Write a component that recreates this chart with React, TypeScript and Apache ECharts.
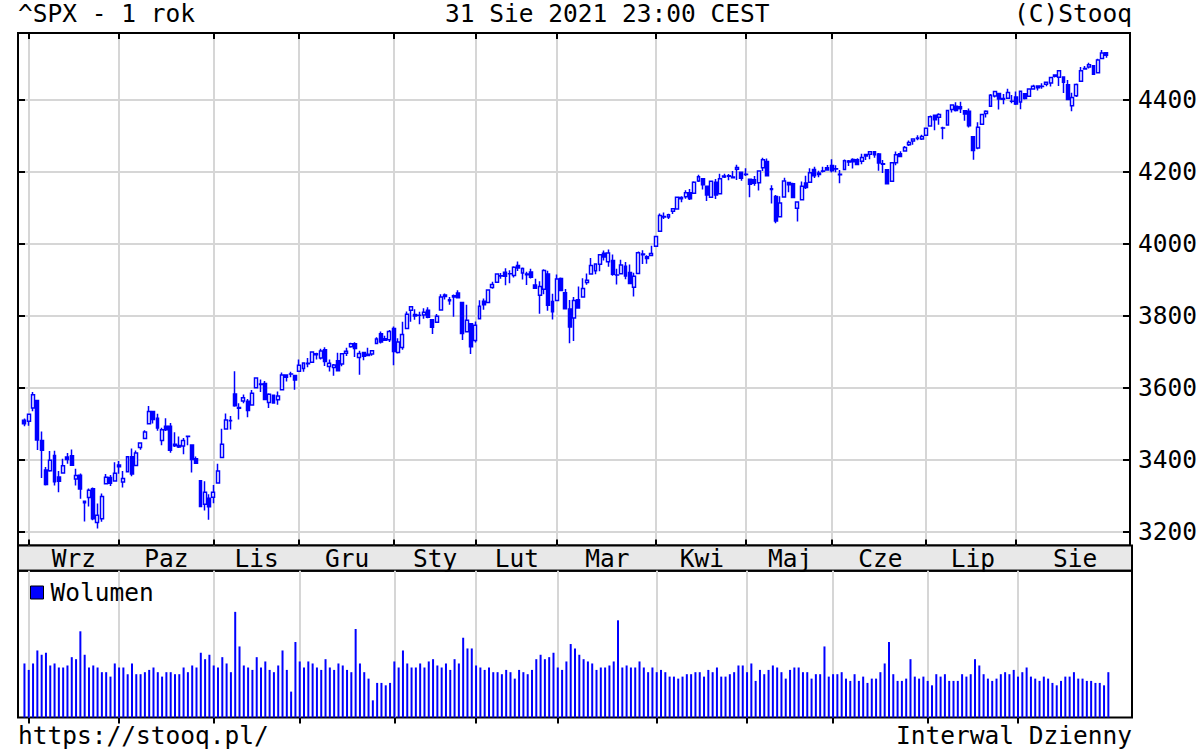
import { useEffect, useRef } from 'react';
import * as echarts from 'echarts';

const dates = [
  '2020-08-31','2020-09-01','2020-09-02','2020-09-03','2020-09-04','2020-09-08','2020-09-09','2020-09-10','2020-09-11','2020-09-14',
  '2020-09-15','2020-09-16','2020-09-17','2020-09-18','2020-09-21','2020-09-22','2020-09-23','2020-09-24','2020-09-25','2020-09-28',
  '2020-09-29','2020-09-30','2020-10-01','2020-10-02','2020-10-05','2020-10-06','2020-10-07','2020-10-08','2020-10-09','2020-10-12',
  '2020-10-13','2020-10-14','2020-10-15','2020-10-16','2020-10-19','2020-10-20','2020-10-21','2020-10-22','2020-10-23','2020-10-26',
  '2020-10-27','2020-10-28','2020-10-29','2020-10-30','2020-11-02','2020-11-03','2020-11-04','2020-11-05','2020-11-06','2020-11-09',
  '2020-11-10','2020-11-11','2020-11-12','2020-11-13','2020-11-16','2020-11-17','2020-11-18','2020-11-19','2020-11-20','2020-11-23',
  '2020-11-24','2020-11-25','2020-11-27','2020-11-30','2020-12-01','2020-12-02','2020-12-03','2020-12-04','2020-12-07','2020-12-08',
  '2020-12-09','2020-12-10','2020-12-11','2020-12-14','2020-12-15','2020-12-16','2020-12-17','2020-12-18','2020-12-21','2020-12-22',
  '2020-12-23','2020-12-24','2020-12-28','2020-12-29','2020-12-30','2020-12-31','2021-01-04','2021-01-05','2021-01-06','2021-01-07',
  '2021-01-08','2021-01-11','2021-01-12','2021-01-13','2021-01-14','2021-01-15','2021-01-19','2021-01-20','2021-01-21','2021-01-22',
  '2021-01-25','2021-01-26','2021-01-27','2021-01-28','2021-01-29','2021-02-01','2021-02-02','2021-02-03','2021-02-04','2021-02-05',
  '2021-02-08','2021-02-09','2021-02-10','2021-02-11','2021-02-12','2021-02-16','2021-02-17','2021-02-18','2021-02-19','2021-02-22',
  '2021-02-23','2021-02-24','2021-02-25','2021-02-26','2021-03-01','2021-03-02','2021-03-03','2021-03-04','2021-03-05','2021-03-08',
  '2021-03-09','2021-03-10','2021-03-11','2021-03-12','2021-03-15','2021-03-16','2021-03-17','2021-03-18','2021-03-19','2021-03-22',
  '2021-03-23','2021-03-24','2021-03-25','2021-03-26','2021-03-29','2021-03-30','2021-03-31','2021-04-01','2021-04-05','2021-04-06',
  '2021-04-07','2021-04-08','2021-04-09','2021-04-12','2021-04-13','2021-04-14','2021-04-15','2021-04-16','2021-04-19','2021-04-20',
  '2021-04-21','2021-04-22','2021-04-23','2021-04-26','2021-04-27','2021-04-28','2021-04-29','2021-04-30','2021-05-03','2021-05-04',
  '2021-05-05','2021-05-06','2021-05-07','2021-05-10','2021-05-11','2021-05-12','2021-05-13','2021-05-14','2021-05-17','2021-05-18',
  '2021-05-19','2021-05-20','2021-05-21','2021-05-24','2021-05-25','2021-05-26','2021-05-27','2021-05-28','2021-06-01','2021-06-02',
  '2021-06-03','2021-06-04','2021-06-07','2021-06-08','2021-06-09','2021-06-10','2021-06-11','2021-06-14','2021-06-15','2021-06-16',
  '2021-06-17','2021-06-18','2021-06-21','2021-06-22','2021-06-23','2021-06-24','2021-06-25','2021-06-28','2021-06-29','2021-06-30',
  '2021-07-01','2021-07-02','2021-07-06','2021-07-07','2021-07-08','2021-07-09','2021-07-12','2021-07-13','2021-07-14','2021-07-15',
  '2021-07-16','2021-07-19','2021-07-20','2021-07-21','2021-07-22','2021-07-23','2021-07-26','2021-07-27','2021-07-28','2021-07-29',
  '2021-07-30','2021-08-02','2021-08-03','2021-08-04','2021-08-05','2021-08-06','2021-08-09','2021-08-10','2021-08-11','2021-08-12',
  '2021-08-13','2021-08-16','2021-08-17','2021-08-18','2021-08-19','2021-08-20','2021-08-23','2021-08-24','2021-08-25','2021-08-26',
  '2021-08-27','2021-08-30','2021-08-31'
];

const opens = [
  3509.73,3507.44,3543.76,3564.74,3453.60,3371.88,3369.82,3412.56,3352.70,3363.56,
  3407.73,3411.23,3346.86,3357.38,3285.57,3295.75,3320.11,3226.14,3236.66,3333.90,
  3350.92,3341.21,3385.87,3338.94,3367.27,3408.74,3384.56,3434.28,3459.67,3500.02,
  3534.01,3515.47,3453.72,3493.50,3493.66,3439.38,3439.91,3438.50,3464.90,3441.42,
  3403.15,3342.48,3277.17,3293.59,3296.20,3336.25,3406.46,3485.74,3508.34,3583.04,
  3543.26,3563.22,3562.67,3552.57,3600.16,3610.31,3612.09,3559.41,3579.31,3566.82,
  3594.52,3635.50,3638.55,3634.18,3645.87,3653.78,3668.28,3670.94,3694.73,3683.05,
  3705.98,3659.13,3656.08,3675.27,3666.41,3696.25,3713.65,3722.39,3684.28,3698.08,
  3693.42,3694.03,3723.03,3750.01,3736.19,3733.27,3764.61,3698.02,3712.20,3764.71,
  3815.05,3803.14,3801.62,3802.23,3814.98,3788.73,3781.88,3816.22,3857.46,3844.24,
  3851.68,3862.96,3836.83,3755.75,3778.05,3731.17,3791.84,3840.27,3836.66,3878.30,
  3892.59,3910.49,3920.78,3916.40,3911.65,3939.61,3918.50,3915.86,3921.16,3885.55,
  3857.07,3873.71,3915.80,3839.66,3842.51,3903.64,3863.99,3818.53,3793.58,3844.39,
  3851.93,3891.99,3915.54,3924.52,3942.96,3973.59,3949.57,3953.50,3913.14,3916.48,
  3937.60,3919.93,3879.34,3917.12,3969.31,3963.34,3967.25,3992.78,4034.44,4075.57,
  4074.29,4089.95,4096.11,4124.71,4130.10,4141.58,4139.76,4174.14,4179.80,4159.18,
  4128.42,4170.46,4138.78,4185.03,4188.25,4185.14,4206.14,4198.10,4191.98,4179.04,
  4177.06,4169.14,4210.34,4228.29,4150.34,4130.55,4074.99,4129.58,4169.92,4165.94,
  4098.45,4121.97,4168.61,4170.16,4205.94,4191.59,4201.94,4210.77,4216.52,4206.82,
  4191.43,4206.05,4229.34,4233.81,4232.99,4228.56,4242.90,4248.31,4255.28,4248.87,
  4220.37,4204.78,4173.40,4224.61,4249.27,4256.97,4274.45,4284.90,4293.21,4290.65,
  4300.73,4326.60,4356.46,4351.01,4321.07,4329.38,4372.41,4381.07,4380.11,4369.02,
  4367.43,4296.40,4265.11,4331.13,4361.27,4381.20,4409.58,4416.38,4402.95,4403.59,
  4395.12,4406.86,4392.74,4415.95,4408.86,4429.07,4437.77,4435.79,4442.18,4446.08,
  4464.84,4461.65,4462.12,4440.94,4382.44,4410.56,4450.29,4484.40,4490.45,4493.75,
  4474.10,4513.76,4529.75
];

const highs = [
  3514.77,3528.03,3588.11,3564.85,3479.15,3379.97,3424.77,3425.55,3368.95,3402.93,
  3419.48,3428.92,3375.17,3362.27,3285.57,3320.31,3323.35,3278.70,3306.88,3360.74,
  3357.92,3393.56,3397.18,3369.10,3409.57,3431.56,3426.26,3447.28,3482.34,3549.85,
  3534.01,3527.94,3489.08,3515.76,3502.42,3476.93,3464.86,3460.53,3466.46,3441.42,
  3409.51,3342.48,3341.05,3304.93,3330.14,3389.49,3486.25,3529.05,3521.58,3645.99,
  3557.22,3581.16,3569.02,3593.66,3628.51,3623.11,3619.09,3585.22,3581.23,3589.81,
  3642.31,3635.50,3644.31,3634.18,3678.45,3670.96,3682.73,3699.20,3697.41,3708.45,
  3712.39,3678.49,3665.91,3697.61,3695.29,3711.27,3725.12,3726.70,3702.90,3698.26,
  3711.24,3703.82,3740.51,3756.12,3744.63,3760.20,3769.99,3737.83,3783.04,3811.55,
  3826.69,3817.86,3810.78,3820.96,3823.60,3788.73,3804.53,3859.75,3861.45,3852.31,
  3859.23,3870.90,3836.83,3830.50,3778.05,3784.32,3843.09,3847.51,3872.42,3894.56,
  3915.77,3918.35,3931.50,3925.99,3937.23,3950.43,3933.61,3921.98,3930.41,3902.92,
  3895.98,3928.65,3925.02,3861.08,3914.50,3906.41,3874.47,3843.67,3851.69,3881.06,
  3903.76,3917.35,3960.27,3944.99,3970.08,3981.04,3983.87,3969.62,3930.12,3955.31,
  3949.13,3942.08,3919.54,3978.19,3981.83,3968.01,3994.41,4020.63,4083.42,4086.23,
  4083.13,4098.19,4129.48,4131.76,4148.00,4151.69,4173.49,4191.31,4180.81,4159.18,
  4175.02,4179.57,4194.17,4194.19,4193.35,4201.53,4218.78,4198.10,4209.39,4179.04,
  4187.72,4202.70,4238.04,4236.39,4162.04,4134.73,4131.58,4183.13,4171.92,4169.15,
  4116.93,4172.80,4188.72,4209.52,4213.42,4202.61,4213.38,4218.36,4234.12,4217.37,
  4204.39,4233.45,4232.34,4236.74,4237.09,4249.74,4248.38,4255.59,4257.16,4251.89,
  4232.29,4204.78,4226.24,4255.84,4256.60,4271.28,4286.12,4292.14,4300.52,4302.43,
  4320.66,4355.43,4356.46,4361.88,4324.57,4371.60,4386.68,4392.37,4393.68,4369.02,
  4375.09,4296.40,4336.84,4359.70,4369.87,4415.18,4422.73,4416.38,4415.47,4429.97,
  4412.25,4422.18,4423.79,4416.17,4429.76,4440.82,4439.39,4445.21,4449.44,4461.77,
  4468.37,4480.26,4462.12,4454.32,4418.61,4444.35,4489.88,4492.81,4501.71,4495.90,
  4513.33,4537.36,4531.39
];

const lows = [
  3493.25,3494.60,3535.23,3427.41,3349.63,3329.27,3366.84,3329.25,3310.47,3363.56,
  3389.25,3384.45,3328.82,3292.40,3229.10,3270.95,3232.57,3209.45,3228.44,3332.91,
  3327.54,3340.47,3361.39,3323.69,3367.27,3354.54,3384.56,3428.15,3458.07,3499.61,
  3500.86,3480.55,3440.89,3480.45,3419.93,3435.65,3433.06,3415.34,3440.45,3364.86,
  3388.71,3268.89,3259.82,3233.94,3279.74,3336.25,3405.17,3485.74,3484.34,3547.48,
  3511.91,3557.00,3518.58,3552.57,3600.16,3588.68,3567.33,3543.84,3556.85,3552.77,
  3594.52,3617.76,3629.33,3594.39,3645.87,3644.84,3657.17,3670.94,3678.88,3678.83,
  3660.54,3645.18,3633.40,3645.84,3659.62,3688.57,3710.87,3685.84,3636.48,3676.16,
  3689.28,3689.32,3723.03,3723.31,3730.21,3726.88,3662.71,3695.07,3705.34,3764.71,
  3783.60,3789.02,3776.51,3791.50,3792.86,3749.62,3780.37,3816.22,3845.05,3830.41,
  3797.16,3847.78,3732.48,3755.75,3694.12,3725.62,3791.84,3816.68,3836.66,3874.93,
  3892.59,3902.64,3884.94,3890.39,3905.78,3923.85,3900.43,3885.03,3903.07,3874.71,
  3805.59,3859.60,3814.04,3789.54,3842.51,3868.57,3818.86,3723.34,3730.19,3819.25,
  3851.93,3885.73,3915.54,3915.21,3923.54,3953.44,3935.74,3910.86,3886.75,3914.16,
  3901.57,3889.07,3853.50,3917.12,3943.25,3944.35,3966.98,3992.78,4034.44,4068.14,
  4068.31,4082.54,4095.51,4114.82,4124.43,4120.87,4139.76,4170.75,4150.47,4118.38,
  4126.35,4123.69,4138.78,4182.36,4176.22,4181.78,4176.81,4174.85,4188.03,4128.59,
  4160.94,4147.33,4201.64,4188.13,4111.53,4056.88,4074.99,4129.58,4142.69,4125.99,
  4061.41,4121.97,4151.72,4170.16,4182.52,4184.11,4197.78,4203.57,4197.59,4198.27,
  4167.93,4206.05,4215.66,4208.41,4218.74,4220.34,4232.25,4234.07,4238.35,4202.45,
  4196.05,4164.40,4173.40,4217.27,4241.43,4256.97,4271.16,4274.67,4287.04,4287.96,
  4300.73,4326.60,4314.37,4329.79,4289.37,4329.38,4364.03,4366.92,4362.36,4340.70,
  4322.53,4233.13,4262.05,4331.13,4350.06,4381.20,4405.45,4372.51,4387.01,4403.59,
  4389.65,4384.81,4373.00,4400.23,4408.86,4429.07,4424.74,4430.03,4436.42,4435.96,
  4460.82,4437.66,4417.83,4397.59,4367.73,4406.80,4450.29,4482.28,4485.66,4468.99,
  4474.10,4513.76,4515.80
];

const closes = [
  3500.31,3526.65,3580.84,3455.06,3426.96,3331.84,3398.96,3339.19,3340.97,3383.54,
  3401.20,3385.49,3357.01,3319.47,3281.06,3315.57,3236.92,3246.59,3298.46,3351.60,
  3335.47,3363.00,3380.80,3348.42,3408.60,3360.97,3419.44,3446.83,3477.14,3534.22,
  3511.93,3488.67,3483.34,3483.81,3426.92,3443.12,3435.56,3453.49,3465.39,3400.97,
  3390.68,3271.03,3310.11,3269.96,3310.24,3369.16,3443.44,3510.45,3509.44,3550.50,
  3545.53,3572.66,3537.01,3585.15,3626.91,3609.53,3567.79,3581.87,3557.54,3577.59,
  3635.41,3629.65,3638.35,3621.63,3662.45,3669.01,3666.72,3699.12,3691.96,3702.25,
  3672.82,3668.10,3663.46,3647.49,3694.62,3701.17,3722.48,3709.41,3694.92,3687.26,
  3690.01,3703.06,3735.36,3727.04,3732.04,3756.07,3700.65,3726.86,3748.14,3803.79,
  3824.68,3799.61,3801.19,3809.84,3795.54,3768.25,3798.91,3851.85,3853.07,3841.47,
  3855.36,3849.62,3750.77,3787.38,3714.24,3773.86,3826.31,3830.17,3871.74,3886.83,
  3915.59,3911.23,3909.88,3916.38,3934.83,3932.59,3931.33,3913.97,3906.71,3876.50,
  3881.37,3925.43,3829.34,3811.15,3901.82,3870.29,3819.72,3768.47,3841.94,3821.35,
  3875.44,3898.81,3939.34,3943.34,3968.94,3962.71,3974.12,3915.46,3913.10,3940.59,
  3910.52,3889.14,3909.52,3974.54,3971.09,3958.55,3972.89,4019.87,4077.91,4073.94,
  4079.95,4097.17,4128.80,4127.99,4141.59,4124.66,4170.42,4185.47,4163.26,4134.94,
  4173.42,4134.98,4180.17,4187.62,4186.72,4183.18,4211.47,4181.17,4192.66,4164.66,
  4167.59,4201.62,4232.60,4188.43,4152.10,4063.04,4112.50,4173.85,4163.29,4127.83,
  4115.68,4159.12,4155.86,4197.05,4188.13,4195.99,4200.88,4204.11,4202.04,4208.12,
  4192.85,4229.89,4226.52,4227.26,4219.55,4239.18,4247.44,4255.15,4246.59,4223.70,
  4221.86,4166.45,4224.79,4246.44,4241.84,4266.49,4280.70,4290.61,4291.80,4297.50,
  4319.94,4352.34,4343.54,4358.13,4320.82,4369.55,4384.63,4369.21,4374.30,4360.03,
  4327.16,4258.49,4323.06,4358.69,4367.48,4411.79,4422.30,4401.46,4400.64,4419.15,
  4395.26,4387.16,4423.15,4402.66,4429.10,4436.52,4432.35,4436.75,4447.70,4460.83,
  4468.00,4479.71,4448.08,4400.27,4405.80,4441.67,4479.53,4486.23,4496.19,4470.00,
  4509.37,4528.79,4522.68
];

// volume in billions of shares
const volumes = [
  4.03,3.55,4.03,5.00,4.68,4.83,3.88,4.03,3.73,3.73,
  3.88,4.50,4.35,6.43,4.68,3.73,3.88,3.73,3.38,3.38,
  3.05,4.03,3.73,3.73,3.23,4.03,3.23,3.23,3.38,3.55,
  3.73,3.38,3.05,3.38,3.38,3.23,3.23,3.73,3.38,3.88,
  3.73,4.83,4.35,4.68,3.88,3.73,4.50,4.03,3.38,7.88,
  5.30,3.88,3.73,3.55,4.50,3.73,4.18,3.55,3.38,3.88,
  5.00,3.55,1.93,5.63,4.18,3.73,4.18,4.03,3.73,3.55,
  4.35,3.73,3.55,4.03,3.88,3.55,3.38,6.60,4.03,3.38,
  2.90,1.28,2.58,2.58,2.40,2.58,4.18,3.73,5.00,4.03,
  3.73,3.73,4.03,3.73,4.18,4.35,3.88,3.73,4.03,3.55,
  4.35,4.03,5.95,5.15,5.15,3.88,3.73,3.55,3.73,3.38,
  3.38,3.23,3.55,3.38,2.90,3.55,3.38,3.23,3.55,4.35,
  4.68,4.35,4.50,4.83,3.73,3.55,4.18,5.48,5.15,4.68,
  4.35,4.18,4.03,3.55,3.73,3.73,3.88,4.18,7.25,3.73,
  3.88,3.73,3.73,4.18,3.73,3.38,3.73,3.38,3.55,3.38,
  3.05,3.05,2.90,3.05,3.23,3.23,3.38,3.38,3.05,3.55,
  3.38,3.73,3.05,3.05,3.23,3.38,3.88,3.88,3.38,4.03,
  2.73,3.55,3.23,3.55,3.88,3.73,3.38,2.90,3.55,3.73,
  3.73,3.38,3.38,2.90,3.23,3.23,5.30,3.05,3.23,3.23,
  3.38,2.90,2.73,3.23,2.73,3.05,2.58,2.90,2.90,3.38,
  4.03,5.63,3.23,2.73,2.73,2.90,4.35,3.05,2.90,3.05,
  2.73,2.40,3.23,3.05,3.23,2.73,2.73,2.73,3.23,3.05,
  3.23,4.35,3.88,3.23,2.90,2.73,2.90,3.23,3.38,3.23,
  3.55,3.05,3.38,3.73,3.05,2.90,2.73,3.05,2.90,2.58,
  2.40,2.73,3.05,3.05,3.38,2.90,2.90,2.73,2.73,2.58,
  2.58,2.40,3.38
];

const priceTicks = [3200, 3400, 3600, 3800, 4000, 4200, 4400];
const monthNames = ['Wrz', 'Paz', 'Lis', 'Gru', 'Sty', 'Lut', 'Mar', 'Kwi', 'Maj', 'Cze', 'Lip', 'Sie'];

const LEAD = 1;
const TRAIL = 5;
const FONT = "'DejaVu Sans Mono', 'Liberation Mono', monospace";
const BLUE = '#0000ff';
const GRID_GRAY = '#d6d6d6';

export default function App() {
  const ref = useRef<HTMLDivElement>(null);

  useEffect(() => {
    document.body.style.margin = '0';
    const chart = echarts.init(ref.current as HTMLDivElement, null, { renderer: 'svg' });

    const cats = [
      ...Array(LEAD).fill(''),
      ...dates,
      ...Array(TRAIL).fill('').map((_, i) => ' '.repeat(i + 1)),
    ];
    const candleData = [
      ...Array(LEAD).fill(['-', '-', '-', '-']),
      ...dates.map((_, i) => [opens[i], closes[i], lows[i], highs[i]]),
    ];
    const volData = [...Array(LEAD).fill('-'), ...volumes];

    const monthStarts: number[] = [];
    dates.forEach((d, i) => {
      if (i > 0 && d.slice(5, 7) !== dates[i - 1].slice(5, 7)) monthStarts.push(i);
    });
    const startCats = new Set(monthStarts.map((i) => i + LEAD));
    const rightEdge = dates.length - 1 + TRAIL + 0.5;
    const leftEdge = -LEAD - 0.5;
    const bounds = [...monthStarts, rightEdge];
    const mids = monthStarts.map((s, k) => (s + bounds[k + 1]) / 2);
    const isStart = (index: number) => startCats.has(index);

    const tickStyle = { color: '#000', width: 2 };
    const fontBase = { fontFamily: FONT, fontSize: 24.5, color: '#000' };
    const titleStyle = { ...fontBase, fontWeight: 'normal' };

    const option = {
      animation: false,
      backgroundColor: '#ffffff',
      title: [
        { text: '^SPX - 1 rok', left: 18, top: 1, padding: 0, textStyle: titleStyle },
        { text: '31 Sie 2021 23:00 CEST', left: 445, top: 1, padding: 0, textStyle: titleStyle },
        { text: '(C)Stooq', right: 68, top: 1, padding: 0, textStyle: titleStyle },
        { text: 'https://stooq.pl/', left: 18, top: 723, padding: 0, textStyle: titleStyle },
        { text: 'Interwal Dzienny', right: 68, top: 723, padding: 0, textStyle: titleStyle },
      ],
      legend: {
        data: ['Wolumen'],
        left: 30,
        top: 580,
        padding: 0,
        icon: 'rect',
        itemWidth: 13,
        itemHeight: 13,
        selectedMode: false,
        itemStyle: { color: BLUE, borderColor: '#000', borderWidth: 1 },
        textStyle: { ...fontBase, padding: [0, 0, 0, 2] },
      },
      grid: [
        { left: 18, right: 68, top: 33, height: 512.5, show: true, borderColor: '#000', borderWidth: 2, backgroundColor: 'transparent' },
        { left: 18, right: 68, top: 545.5, height: 25.2, show: true, borderColor: '#000', borderWidth: 2, backgroundColor: '#e8e8e8' },
        { left: 18, right: 68, top: 570.7, height: 146.8, show: true, borderColor: '#000', borderWidth: 2, backgroundColor: 'transparent' },
      ],
      xAxis: [
        {
          gridIndex: 0, type: 'category', data: cats, boundaryGap: true, position: 'bottom',
          axisLine: { show: false }, axisLabel: { show: false },
          axisTick: { show: true, inside: true, length: 6, alignWithLabel: true, interval: isStart, lineStyle: tickStyle },
          splitLine: { show: true, interval: isStart, alignWithLabel: true, lineStyle: { color: GRID_GRAY, width: 2 } },
        },
        {
          gridIndex: 0, type: 'category', data: cats, boundaryGap: true, position: 'top',
          axisLine: { show: false }, axisLabel: { show: false },
          axisTick: { show: true, inside: true, length: 6, alignWithLabel: true, interval: isStart, lineStyle: tickStyle },
          splitLine: { show: false },
        },
        {
          gridIndex: 1, type: 'value', min: leftEdge, max: rightEdge, position: 'bottom',
          axisLine: { show: false }, axisTick: { show: false }, splitLine: { show: false },
          axisLabel: {
            show: true, inside: true, margin: 12.6, verticalAlign: 'middle', ...fontBase,
            customValues: mids,
            formatter: (v: number) => {
              let best = 0;
              mids.forEach((m, k) => { if (Math.abs(m - v) < Math.abs(mids[best] - v)) best = k; });
              return monthNames[best];
            },
          },
        },
        {
          gridIndex: 2, type: 'category', data: cats, boundaryGap: true, position: 'top',
          axisLine: { show: false }, axisLabel: { show: false },
          axisTick: { show: true, inside: true, length: 6, alignWithLabel: true, interval: isStart, lineStyle: tickStyle },
          splitLine: { show: true, interval: isStart, alignWithLabel: true, lineStyle: { color: GRID_GRAY, width: 2 } },
        },
      ],
      yAxis: [
        {
          gridIndex: 0, type: 'value', position: 'right', min: 3162.5, max: 4584.5, scale: true,
          axisLine: { show: false },
          axisTick: { show: true, inside: true, length: 7, customValues: priceTicks, lineStyle: tickStyle },
          axisLabel: { show: true, margin: 8, customValues: priceTicks, formatter: (v: number) => String(v), ...fontBase },
          splitLine: { show: true, lineStyle: { color: GRID_GRAY, width: 2 } },
        },
        {
          gridIndex: 0, type: 'value', position: 'left', min: 3162.5, max: 4584.5, scale: true,
          axisLine: { show: false },
          axisTick: { show: true, inside: true, length: 7, customValues: priceTicks, lineStyle: tickStyle },
          axisLabel: { show: false },
          splitLine: { show: false },
        },
        { gridIndex: 1, type: 'value', min: 0, max: 1, show: false },
        { gridIndex: 2, type: 'value', min: 0, max: 10.95, show: false },
      ],
      series: [
        {
          name: 'SPX',
          type: 'candlestick',
          xAxisIndex: 0,
          yAxisIndex: 0,
          data: candleData,
          barWidth: 3.4,
          silent: true,
          itemStyle: { color: '#ffffff', color0: BLUE, borderColor: BLUE, borderColor0: BLUE, borderColorDoji: BLUE, borderWidth: 1.5 },
        },
        {
          name: 'Wolumen',
          type: 'bar',
          xAxisIndex: 3,
          yAxisIndex: 3,
          data: volData,
          barWidth: 2,
          silent: true,
          itemStyle: { color: BLUE },
        },
      ],
    };

    chart.setOption(option as any);
    return () => chart.dispose();
  }, []);

  return <div ref={ref} style={{ width: 1200, height: 750 }} />;
}
